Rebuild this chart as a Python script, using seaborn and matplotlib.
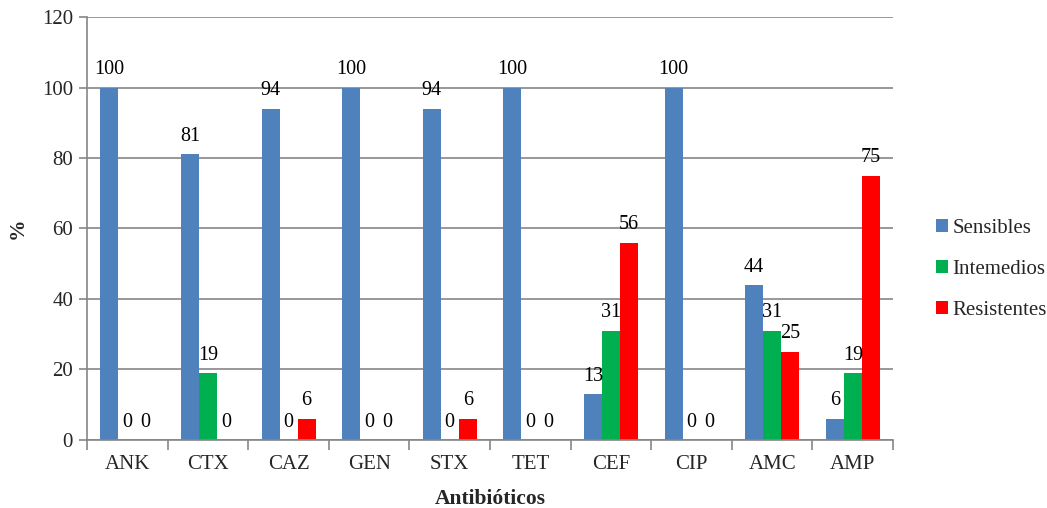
import matplotlib
matplotlib.use("Agg")
import matplotlib.pyplot as plt
import seaborn as sns
import pandas as pd
import numpy as np

categorias = ["ANK", "CTX", "CAZ", "GEN", "STX", "TET", "CEF", "CIP", "AMC", "AMP"]
sensibles = [100, 81, 94, 100, 94, 100, 13, 100, 44, 6]
intermedios = [0, 19, 0, 0, 0, 0, 31, 0, 31, 19]
resistentes = [0, 0, 6, 0, 6, 0, 56, 0, 25, 75]
series = ["Sensibles", "Intemedios", "Resistentes"]
colores = ["#4F81BD", "#00B050", "#FF0000"]

rows = []
for s, vals in zip(series, [sensibles, intermedios, resistentes]):
    for c, v in zip(categorias, vals):
        rows.append({"Antibióticos": c, "%": v, "serie": s})
df = pd.DataFrame(rows)

sns.set_theme(style="white")
plt.rcParams["font.family"] = ["Liberation Serif", "DejaVu Serif"]

fig = plt.figure(figsize=(10.47, 5.08), dpi=100)
ax = fig.add_axes([0.0831, 0.134, 0.853 - 0.0831, 0.9665 - 0.134])

sns.barplot(data=df, x="Antibióticos", y="%", hue="serie", palette=colores,
            width=0.67, gap=0, saturation=1, ax=ax, legend=True, linewidth=0)

for cont in ax.containers:
    ax.bar_label(cont, fmt="%d", padding=6, fontsize=14.5, color="black")

ax.set_ylim(0, 120)
ax.set_yticks(np.arange(0, 121, 20))
ax.set_xlim(-0.5, len(categorias) - 0.5)
ax.yaxis.grid(True, color="#868686", linewidth=1.2)
ax.set_axisbelow(True)
for sp in ["top", "right"]:
    ax.spines[sp].set_visible(False)
for sp in ["left", "bottom"]:
    ax.spines[sp].set_color("#868686")
    ax.spines[sp].set_linewidth(1.2)

ax.set_xticks(np.arange(len(categorias)))
ax.set_xticklabels(categorias, fontsize=15)
ax.tick_params(axis="x", length=0, pad=11)
ax.set_xticks(np.arange(-0.5, len(categorias), 1), minor=True)
ax.tick_params(axis="x", which="minor", length=7, color="#868686", width=1.2, direction="out", bottom=True)
ax.tick_params(axis="y", labelsize=15, length=6, color="#868686", width=1.2, direction="out", left=True, pad=4)

ax.set_xlabel("Antibióticos", fontsize=15.5, fontweight="bold", labelpad=11)
ax.set_ylabel("%", fontsize=15.5, fontweight="bold", labelpad=10)

handles, labels = ax.get_legend_handles_labels()
ax.get_legend().remove()
fig.legend(handles, labels, loc="center left", bbox_to_anchor=(0.876, 0.470),
           frameon=False, fontsize=15, handlelength=0.6, handleheight=0.6,
           handletextpad=0.2, labelspacing=1.05)

fig.savefig("out.png", dpi=100)
